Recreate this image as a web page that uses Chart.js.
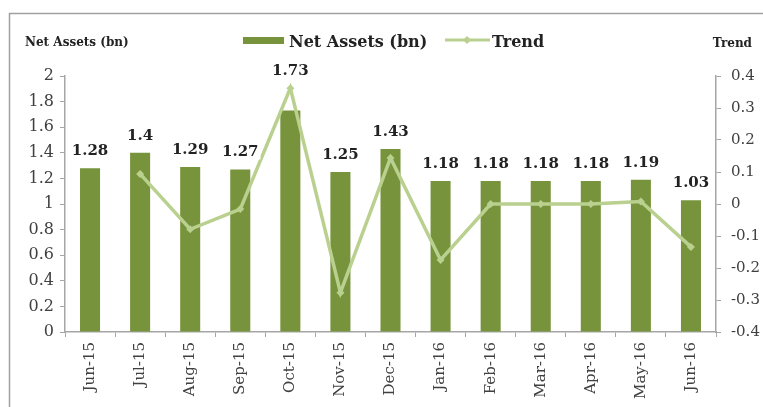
<!DOCTYPE html>
<html>
<head>
<meta charset="utf-8">
<script src="https://cdn.jsdelivr.net/npm/chart.js@4"></script>
<style>
  html, body { margin: 0; padding: 0; background: #fff; }
  #wrap { width: 763px; height: 407px; position: relative; }
</style>
</head>
<body>
<div id="wrap"><canvas id="chart" width="763" height="407"></canvas></div>
<script>
// data
const months = ['Jun-15', 'Jul-15', 'Aug-15', 'Sep-15', 'Oct-15', 'Nov-15', 'Dec-15',
                'Jan-16', 'Feb-16', 'Mar-16', 'Apr-16', 'May-16', 'Jun-16'];
const netAssets = [1.28, 1.4, 1.29, 1.27, 1.73, 1.25, 1.43, 1.18, 1.18, 1.18, 1.18, 1.19, 1.03];
const trend = [null, 0.094, -0.079, -0.016, 0.362, -0.277, 0.144, -0.175, 0, 0, 0, 0.008, -0.134];
const leftTicks = [0, 0.2, 0.4, 0.6, 0.8, 1, 1.2, 1.4, 1.6, 1.8, 2];
const rightTicks = [-0.4, -0.3, -0.2, -0.1, 0, 0.1, 0.2, 0.3, 0.4];

const BAR = '#77933c';
const LINE = '#b9d08f';
const TXT = '#404040';
const AXIS = '#a6a6a6';
const SERIF = "'DejaVu Serif', 'Liberation Serif', serif";

const fmt = v => String(+Number(v).toFixed(2));

// frame, axis titles and legend
const decor = {
  id: 'decor',
  afterDraw(chart) {
    const ctx = chart.ctx;
    ctx.save();
    ctx.strokeStyle = '#a0a0a0';
    ctx.lineWidth = 1.5;
    ctx.beginPath();
    ctx.moveTo(9.5, 407);
    ctx.lineTo(9.5, 13.5);
    ctx.lineTo(763, 13.5);
    ctx.stroke();

    ctx.fillStyle = '#222';
    ctx.textBaseline = 'alphabetic';
    ctx.font = 'bold 12px ' + SERIF;
    ctx.textAlign = 'left';
    ctx.fillText('Net Assets (bn)', 25, 46);
    ctx.textAlign = 'right';
    ctx.fillText('Trend', 752, 47);

    // legend
    ctx.fillStyle = BAR;
    ctx.fillRect(243, 37, 41, 7);
    ctx.fillStyle = '#222';
    ctx.textAlign = 'left';
    ctx.font = 'bold 16px ' + SERIF;
    ctx.fillText('Net Assets (bn)', 289, 47);
    ctx.strokeStyle = LINE;
    ctx.lineWidth = 3;
    ctx.beginPath();
    ctx.moveTo(445, 40);
    ctx.lineTo(490, 40);
    ctx.stroke();
    ctx.fillStyle = LINE;
    ctx.beginPath();
    ctx.moveTo(467, 36); ctx.lineTo(471, 40); ctx.lineTo(467, 44); ctx.lineTo(463, 40);
    ctx.closePath();
    ctx.fill();
    ctx.fillStyle = '#222';
    ctx.fillText('Trend', 492, 47);
    ctx.restore();
  }
};

// value labels above the bars, kept clear of the trend line
const barLabels = {
  id: 'barLabels',
  afterDatasetsDraw(chart) {
    const ctx = chart.ctx;
    const bars = chart.getDatasetMeta(0).data;
    const pts = chart.getDatasetMeta(1).data;
    ctx.save();
    ctx.font = 'bold 15px ' + SERIF;
    ctx.textAlign = 'center';
    ctx.textBaseline = 'alphabetic';
    bars.forEach((bar, i) => {
      let top = bar.y;
      const p = pts[i];
      if (trend[i] !== null && p && p.y < top && Math.abs(p.x - bar.x) < 1) top = p.y;
      const txt = fmt(netAssets[i]);
      const w = ctx.measureText(txt).width;
      const base = top - 13;
      ctx.fillStyle = '#fff';
      ctx.fillRect(bar.x - w / 2 - 2, base - 13, w + 4, 16);
      ctx.fillStyle = '#222';
      ctx.fillText(txt, bar.x, base);
    });
    ctx.restore();
  }
};

new Chart(document.getElementById('chart'), {
  type: 'bar',
  data: {
    labels: months,
    datasets: [{
      label: 'Net Assets (bn)',
      data: netAssets,
      backgroundColor: BAR,
      barPercentage: 0.4,
      categoryPercentage: 1,
      yAxisID: 'y',
      order: 2
    }, {
      type: 'line',
      label: 'Trend',
      data: trend,
      borderColor: LINE,
      backgroundColor: LINE,
      borderWidth: 3.5,
      pointStyle: 'rectRot',
      pointRadius: 4,
      pointBorderWidth: 0,
      tension: 0,
      spanGaps: false,
      yAxisID: 'y1',
      order: 1
    }]
  },
  options: {
    responsive: false,
    animation: false,
    events: [],
    layout: { padding: { top: 76, left: 0, right: 0, bottom: 0 } },
    plugins: { legend: { display: false }, tooltip: { enabled: false } },
    scales: {
      x: {
        grid: { offset: true, drawOnChartArea: false, drawTicks: true, tickLength: 5, color: AXIS },
        border: { color: AXIS, width: 1.5 },
        ticks: {
          color: TXT, font: { family: SERIF, size: 15 },
          minRotation: 90, maxRotation: 90, padding: 5, autoSkip: false
        },
        afterFit(s) { s.height = 75; }
      },
      y: {
        position: 'left',
        min: 0, max: 2,
        afterBuildTicks(s) { s.ticks = leftTicks.map(v => ({ value: v })); },
        grid: { drawOnChartArea: false, tickLength: 5, color: AXIS },
        border: { color: AXIS, width: 1.5 },
        ticks: { color: TXT, font: { family: SERIF, size: 16 }, padding: 6, callback: fmt },
        afterFit(s) { s.width = 65; }
      },
      y1: {
        position: 'right',
        min: -0.4, max: 0.4,
        afterBuildTicks(s) { s.ticks = rightTicks.map(v => ({ value: v })); },
        grid: { drawOnChartArea: false, tickLength: 5, color: AXIS },
        border: { color: AXIS, width: 1.5 },
        ticks: { color: TXT, font: { family: SERIF, size: 15 }, padding: 10, callback: fmt },
        afterFit(s) { s.width = 47; }
      }
    }
  },
  plugins: [decor, barLabels]
});
</script>
</body>
</html>
